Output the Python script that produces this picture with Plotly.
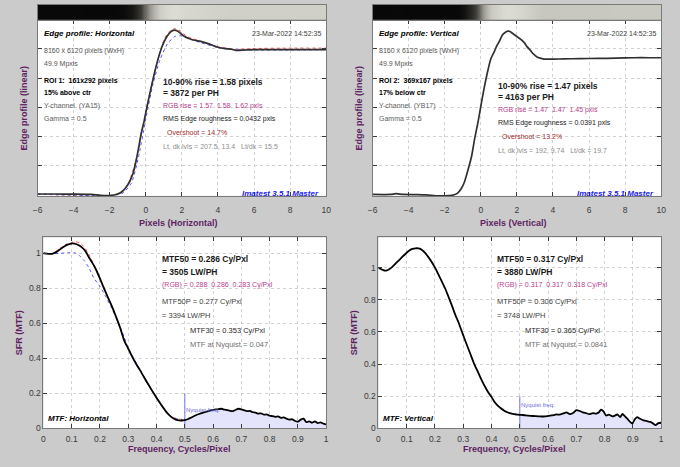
import plotly.graph_objects as go

# ---------------- data ----------------
# Edge profile, horizontal (ROI 1)
h_px = [-6, -5, -4, -3, -2.5, -2, -1.6, -1.3, -1.1, -0.9, -0.7, -0.53, -0.4, -0.26, -0.1, 0.02, 0.2,
        0.38, 0.55, 0.75, 0.9, 1.02, 1.2, 1.38, 1.52, 1.66, 1.8, 1.93, 2.15, 2.39, 2.7, 3.1, 3.5, 4.0,
        4.4, 4.75, 5.0, 5.5, 6, 7, 8, 9, 10]
h_y = [0.006, 0.006, 0.005, 0.003, -0.003, -0.004, 0.004, 0.023, 0.05, 0.09, 0.15, 0.237, 0.32, 0.418,
       0.5, 0.575, 0.68, 0.78, 0.87, 0.96, 1.015, 1.05, 1.09, 1.117, 1.127, 1.128, 1.12, 1.106, 1.085,
       1.072, 1.06, 1.05, 1.035, 1.012, 1.002, 0.998, 0.99, 0.993, 0.995, 0.995, 0.995, 0.995, 0.995]
h_r_px = [-6, -2, -1.5, -1.0, -0.5, 0, 0.5, 1.0, 1.3, 1.6, 1.9, 2.3, 3, 4, 5, 6, 8, 10]
h_r_y = [0.005, -0.004, 0.01, 0.07, 0.26, 0.57, 0.85, 1.06, 1.12, 1.14, 1.125, 1.085, 1.055, 1.015,
         0.998, 1.003, 1.006, 1.006]
h_b_px = [-6, -2, -1.3, -0.8, -0.4, 0, 0.4, 0.8, 1.2, 1.6, 1.95, 2.4, 3, 4, 5, 6, 8, 10]
h_b_y = [0.005, -0.004, 0.01, 0.08, 0.26, 0.52, 0.76, 0.93, 1.035, 1.085, 1.09, 1.07, 1.045, 1.01,
         0.995, 0.993, 0.993, 0.995]

# Edge profile, vertical (ROI 2)
v_px = [-6, -5, -4.7, -4.3, -3.5, -3, -2.5, -2, -1.6, -1.3, -1.07, -0.9, -0.71, -0.5, -0.34, -0.15,
        0.02, 0.2, 0.38, 0.55, 0.75, 0.9, 1.02, 1.2, 1.35, 1.5, 1.62, 1.75, 2.0, 2.2, 2.4, 2.56, 2.75,
        2.93, 3.1, 3.29, 3.5, 3.84, 4.57, 5.5, 6.5, 7.5, 8.5, 9.3, 10]
v_y = [0.003, 0.003, 0.008, 0.003, 0.002, 0.0, -0.006, -0.007, -0.003, 0.01, 0.045, 0.09, 0.17, 0.27,
       0.384, 0.5, 0.62, 0.74, 0.846, 0.93, 0.982, 1.025, 1.05, 1.095, 1.113, 1.122, 1.12, 1.108,
       1.085, 1.068, 1.045, 1.016, 0.99, 0.964, 0.947, 0.937, 0.931, 0.93, 0.932, 0.934, 0.935, 0.937,
       0.94, 0.94, 0.94]

# MTF, horizontal
mh_f = [0, 0.01, 0.02, 0.03, 0.04, 0.05, 0.062, 0.075, 0.085, 0.095, 0.102, 0.11, 0.125, 0.135, 0.143,
        0.152, 0.16, 0.172, 0.184, 0.2, 0.212, 0.224, 0.236, 0.247, 0.259, 0.271, 0.286, 0.3, 0.315,
        0.33, 0.342, 0.353, 0.365, 0.378, 0.39, 0.4, 0.41, 0.42, 0.433, 0.445, 0.456, 0.468, 0.48, 0.49,
        0.5, 0.51, 0.52, 0.535, 0.55, 0.565, 0.58, 0.595, 0.61, 0.62, 0.63, 0.64, 0.65, 0.66, 0.67,
        0.68, 0.69, 0.7, 0.71, 0.72, 0.73, 0.74, 0.75, 0.76, 0.77, 0.78, 0.79, 0.8, 0.81, 0.82, 0.83,
        0.84, 0.85, 0.86, 0.87, 0.88, 0.89, 0.9, 0.91, 0.92, 0.93, 0.94, 0.95, 0.96, 0.97, 0.98, 0.99, 1.0]
mh_y = [1.0, 0.998, 0.996, 0.997, 1.002, 1.012, 1.026, 1.04, 1.049, 1.054, 1.056, 1.055, 1.046, 1.035,
        1.023, 1.003, 0.979, 0.948, 0.913, 0.855, 0.808, 0.763, 0.72, 0.678, 0.628, 0.576, 0.5, 0.455,
        0.405, 0.362, 0.331, 0.3, 0.266, 0.232, 0.2, 0.175, 0.15, 0.126, 0.097, 0.075, 0.06, 0.05,
        0.045, 0.045, 0.047, 0.052, 0.06, 0.072, 0.082, 0.09, 0.097, 0.104, 0.108, 0.11, 0.112, 0.107,
        0.104, 0.1, 0.098, 0.106, 0.112, 0.109, 0.103, 0.098, 0.1, 0.092, 0.09, 0.084, 0.086, 0.078,
        0.08, 0.072, 0.07, 0.066, 0.068, 0.06, 0.063, 0.055, 0.05, 0.052, 0.042, 0.038, 0.05, 0.055,
        0.035, 0.04, 0.032, 0.04, 0.03, 0.034, 0.027, 0.022]
mh_r_f = [0, 0.03, 0.06, 0.08, 0.1, 0.115, 0.13, 0.145, 0.16, 0.18, 0.2, 0.25, 0.3, 0.35, 0.4, 0.45, 0.5]
mh_r_y = [1.0, 0.998, 1.03, 1.05, 1.063, 1.066, 1.058, 1.035, 0.995, 0.93, 0.86, 0.665, 0.45, 0.31,
          0.177, 0.068, 0.048]
mh_b_f = [0, 0.03, 0.06, 0.09, 0.11, 0.125, 0.143, 0.16, 0.178, 0.2, 0.218, 0.24, 0.26, 0.28, 0.3,
          0.35, 0.4, 0.45, 0.5]
mh_b_y = [1.0, 0.998, 1.0, 1.003, 1.003, 0.99, 0.96, 0.92, 0.86, 0.81, 0.76, 0.69, 0.62, 0.545, 0.46,
          0.31, 0.172, 0.066, 0.046]

# MTF, vertical
mv_f = [0, 0.01, 0.021, 0.03, 0.038, 0.05, 0.062, 0.075, 0.085, 0.097, 0.108, 0.12, 0.131, 0.142,
        0.154, 0.166, 0.178, 0.19, 0.201, 0.212, 0.224, 0.236, 0.247, 0.259, 0.271, 0.283, 0.294,
        0.306, 0.317, 0.33, 0.34, 0.352, 0.365, 0.376, 0.387, 0.4, 0.41, 0.42, 0.433, 0.445, 0.456,
        0.468, 0.48, 0.49, 0.5, 0.51, 0.52, 0.538, 0.555, 0.573, 0.59, 0.607, 0.62, 0.63, 0.64, 0.654,
        0.665, 0.677, 0.688, 0.7, 0.712, 0.723, 0.735, 0.746, 0.758, 0.77, 0.78, 0.787, 0.796, 0.805,
        0.815, 0.828, 0.837, 0.845, 0.855, 0.863, 0.872, 0.88, 0.89, 0.898, 0.906, 0.915, 0.925, 0.938,
        0.95, 0.962, 0.97, 0.98, 0.99, 1.0]
mv_y = [1.0, 0.99, 0.982, 0.983, 0.99, 1.006, 1.028, 1.05, 1.068, 1.088, 1.105, 1.116, 1.12, 1.119,
        1.11, 1.09, 1.062, 1.03, 0.997, 0.958, 0.915, 0.87, 0.822, 0.768, 0.71, 0.66, 0.607, 0.55, 0.5,
        0.44, 0.395, 0.35, 0.3, 0.262, 0.228, 0.195, 0.166, 0.145, 0.125, 0.11, 0.1, 0.093, 0.088,
        0.086, 0.084, 0.083, 0.081, 0.078, 0.076, 0.074, 0.075, 0.079, 0.083, 0.087, 0.085, 0.093, 0.1,
        0.088, 0.095, 0.113, 0.108, 0.1, 0.094, 0.088, 0.095, 0.091, 0.1, 0.117, 0.105, 0.08, 0.085,
        0.074, 0.08, 0.087, 0.07, 0.09, 0.075, 0.06, 0.04, 0.03, 0.055, 0.07, 0.06, 0.05, 0.045, 0.04,
        0.032, 0.02, 0.033, 0.035]

nyquist = 0.5
nyq_marker_top = 0.2

# ---------------- figure ----------------
W, H = 680, 467
FONT = "Liberation Sans, Arial, sans-serif"
PURPLE = "#5e1f63"
GRID = "#d2d2d2"
FRAME = "#7a7a7a"
TICKC = "#3a3a3a"

def px_x(p):
    return p / W

def px_y(p):
    return 1 - p / H

fig = go.Figure()

# gradient bars from edge profiles
bar_scale = [[0, "#080808"], [0.35, "#3c3a36"], [0.6, "#9a9890"], [0.85, "#cdcdc5"], [1, "#dcdcd4"]]
fig.add_trace(go.Heatmap(x=h_px, z=[h_y], colorscale=bar_scale, zmin=0, zmax=1.13, showscale=False,
                         zsmooth="best", xaxis="x5", yaxis="y5", hoverinfo="skip"))
fig.add_trace(go.Heatmap(x=v_px, z=[v_y], colorscale=bar_scale, zmin=0, zmax=1.13, showscale=False,
                         zsmooth="best", xaxis="x6", yaxis="y6", hoverinfo="skip"))

# edge profiles
fig.add_trace(go.Scatter(x=h_r_px, y=h_r_y, mode="lines", line=dict(color="#ff5050", width=1, dash="dot", shape="spline", smoothing=0.6), xaxis="x", yaxis="y"))
fig.add_trace(go.Scatter(x=h_b_px, y=h_b_y, mode="lines", line=dict(color="#5050ff", width=1, dash="dot", shape="spline", smoothing=0.6), xaxis="x", yaxis="y"))
fig.add_trace(go.Scatter(x=h_px, y=h_y, mode="lines", line=dict(color="#303030", width=1.7, shape="spline", smoothing=0.6), xaxis="x", yaxis="y"))
fig.add_trace(go.Scatter(x=v_px, y=v_y, mode="lines", line=dict(color="#303030", width=1.7, shape="spline", smoothing=0.6), xaxis="x2", yaxis="y2"))

# MTF fills beyond Nyquist
for f, m, xa, ya in [(mh_f, mh_y, "x3", "y3"), (mv_f, mv_y, "x4", "y4")]:
    ff = [a for a in f if a >= nyquist]
    mm = [b for a, b in zip(f, m) if a >= nyquist]
    fig.add_trace(go.Scatter(x=ff, y=mm, mode="lines", fill="tozeroy", fillcolor="#e4e4fc",
                             line=dict(width=0, color="#e4e4fc"), xaxis=xa, yaxis=ya))
    fig.add_trace(go.Scatter(x=[nyquist, nyquist], y=[0, nyq_marker_top], mode="lines",
                             line=dict(color="#7878e0", width=1), xaxis=xa, yaxis=ya))

fig.add_trace(go.Scatter(x=mh_r_f, y=mh_r_y, mode="lines", line=dict(color="#ff5050", width=1, dash="dot", shape="spline", smoothing=0.6), xaxis="x3", yaxis="y3"))
fig.add_trace(go.Scatter(x=mh_b_f, y=mh_b_y, mode="lines", line=dict(color="#5050ff", width=1, dash="dot", shape="spline", smoothing=0.6), xaxis="x3", yaxis="y3"))
fig.add_trace(go.Scatter(x=mh_f, y=mh_y, mode="lines", line=dict(color="#000000", width=1.8, shape="spline", smoothing=0.5), xaxis="x3", yaxis="y3"))
fig.add_trace(go.Scatter(x=mv_f, y=mv_y, mode="lines", line=dict(color="#000000", width=1.8, shape="spline", smoothing=0.5), xaxis="x4", yaxis="y4"))

# ---------------- axes ----------------
top_dom = [px_y(198), px_y(20)]
bar_dom = [px_y(20), px_y(5)]
bot_dom = [px_y(433), px_y(240)]
left_top_x = [px_x(33), px_x(326)]
right_top_x = [px_x(373), px_x(666)]
left_bot_x = [px_x(39), px_x(326)]
right_bot_x = [px_x(379), px_x(666)]

tickfont = dict(family=FONT, size=8.5, color=TICKC)

def xax(domain, anchor, rng, dtick, **kw):
    d = dict(domain=domain, anchor=anchor, range=rng, dtick=dtick, tick0=0, ticks="inside", ticklen=4,
             tickcolor=TICKC, showline=True, linecolor=FRAME, linewidth=1, mirror="ticks",
             showgrid=True, gridcolor=GRID, griddash="dot", gridwidth=1, zeroline=False,
             tickfont=tickfont)
    d.update(kw)
    return d

def yax(domain, anchor, rng, dtick, **kw):
    d = dict(domain=domain, anchor=anchor, range=rng, dtick=dtick, tick0=0, ticks="inside", ticklen=4,
             tickcolor=TICKC, showline=True, linecolor=FRAME, linewidth=1, mirror="ticks",
             showgrid=True, gridcolor=GRID, griddash="dot", gridwidth=1, zeroline=False,
             tickfont=tickfont)
    d.update(kw)
    return d

bar_ax = dict(showticklabels=False, ticks="", showgrid=False, zeroline=False, showline=True,
              linecolor=FRAME, mirror=True)

fig.update_layout(
    xaxis=xax(left_top_x, "y", [-6, 10], 2, ticklabelstandoff=6),
    yaxis=yax(top_dom, "x", [-0.0068, 1.2], 0.2, showticklabels=False),
    xaxis2=xax(right_top_x, "y2", [-6, 10], 2, ticklabelstandoff=6),
    yaxis2=yax(top_dom, "x2", [-0.0068, 1.2], 0.2, showticklabels=False),
    xaxis3=xax(left_bot_x, "y3", [0, 1], 0.1, tickformat="~g", ticklabelstandoff=2),
    yaxis3=yax(bot_dom, "x3", [0, 1.0904], 0.2, tickformat="~g"),
    xaxis4=xax(right_bot_x, "y4", [0, 1], 0.1, tickformat="~g", ticklabelstandoff=2),
    yaxis4=yax(bot_dom, "x4", [0, 1.1877], 0.2, tickformat="~g"),
    xaxis5=dict(domain=left_top_x, anchor="y5", range=[-6, 10], **bar_ax),
    yaxis5=dict(domain=bar_dom, anchor="x5", range=[-0.5, 0.5], **bar_ax),
    xaxis6=dict(domain=right_top_x, anchor="y6", range=[-6, 10], **bar_ax),
    yaxis6=dict(domain=bar_dom, anchor="x6", range=[-0.5, 0.5], **bar_ax),
)

# ---------------- text ----------------
annots = []

def ann(text, x, y, size=7, color="#000000", bold=False, italic=False, xanchor="left", angle=0):
    t = text.replace("  ", " \u00a0")
    if bold:
        t = "<b>" + t + "</b>"
    if italic:
        t = "<i>" + t + "</i>"
    if angle == 0:
        y = y + 2.5
        if xanchor == "left":
            x = x - 2.5
        elif xanchor == "right":
            x = x + 2.5
    annots.append(dict(text=t, x=px_x(x), y=px_y(y), xref="paper", yref="paper", showarrow=False,
                       xanchor=xanchor, yanchor="middle", textangle=angle,
                       font=dict(family=FONT, size=size, color=color)))

MAG = "#b8408f"
DRED = "#a02a2a"
LGREY = "#8e8e8e"
MGREY = "#555555"
BLUE = "#1c1ce8"

panels = [
    dict(off=0, title="Edge profile: Horizontal", roi="ROI 1:  161x292 pixels", pos="15% above ctr",
         chan="Y-channel  (YA15)", rise="10-90% rise = 1.58 pixels", ph="= 3872 per PH",
         rgb="RGB rise = 1.57  1.58  1.62 pxls", rms="RMS Edge roughness = 0.0432 pxls",
         over="Overshoot = 14.7%", lvls="Lt, dk lvls = 207.5, 13.4   Lt/dk = 15.5", ry=80,
         xt="Pixels (Horizontal)",
         m50="MTF50 = 0.286 Cy/Pxl", m50lw="= 3505 LW/PH", mrgb="(RGB) = 0.288  0.286  0.283 Cy/Pxl",
         m50p="MTF50P = 0.277 Cy/Pxl", m50plw="= 3394 LW/PH", m30="MTF30 = 0.353 Cy/Pxl",
         mnyq="MTF at Nyquist = 0.047", mt="MTF: Horizontal", nyqy=412),
    dict(off=340, title="Edge profile: Vertical", roi="ROI 2:  369x167 pixels", pos="17% below ctr",
         chan="Y-channel  (YB17)", rise="10-90% rise = 1.47 pixels", ph="= 4163 per PH",
         rgb="RGB rise = 1.47  1.47  1.45 pxls", rms="RMS Edge roughness = 0.0391 pxls",
         over="Overshoot = 13.2%", lvls="Lt, dk lvls = 192, 9.74   Lt/dk = 19.7", ry=84,
         xt="Pixels (Vertical)",
         m50="MTF50 = 0.317 Cy/Pxl", m50lw="= 3880 LW/PH", mrgb="(RGB) = 0.317  0.317  0.318 Cy/Pxl",
         m50p="MTF50P = 0.306 Cy/Pxl", m50plw="= 3748 LW/PH", m30="MTF30 = 0.365 Cy/Pxl",
         mnyq="MTF at Nyquist = 0.0841", mt="MTF: Vertical", nyqy=407),
]

for p in panels:
    o = p["off"]
    ann(p["title"], o + 40, 31, size=8, bold=True, italic=True)
    ann("23-Mar-2022 14:52:35", o + 320, 31, size=7, color="#404040", xanchor="right")
    ann("8160 x 6120 pixels (WxH)", o + 40, 49, color=MGREY)
    ann("49.9 Mpxls", o + 40, 62, color=MGREY)
    ann(p["roi"], o + 40, 79, bold=True)
    ann(p["pos"], o + 40, 91, bold=True)
    ann(p["chan"], o + 40, 105, color="#606060")
    ann("Gamma = 0.5", o + 40, 117, color="#606060")
    ry = p["ry"]
    ann(p["rise"], o + 161, ry, size=8.5, bold=True, color="#1a1a1a")
    ann(p["ph"], o + 161, ry + 11.5, size=8.5, bold=True, color="#1a1a1a")
    ann(p["rgb"], o + 161, ry + 25, color=MAG)
    ann(p["rms"], o + 161, ry + 38, color="#1a1a1a")
    ann(p["over"], o + 165, ry + 51, color=DRED)
    ann(p["lvls"], o + 161, ry + 66, color=LGREY)
    ann("Imatest 3.5.1 Master", o + 318, 193, size=8, bold=True, italic=True, color=BLUE,
        xanchor="right")
    ann("Edge profile (linear)", o + 19, 109, size=9, bold=True, color=PURPLE, xanchor="center", angle=-90)
    ann(p["xt"], o + 176, 223, size=9, bold=True, color=PURPLE, xanchor="center")
    # MTF panel
    ann(p["m50"], o + 160, 259, size=8.5, bold=True, color="#1a1a1a")
    ann(p["m50lw"], o + 160, 272, size=8.5, bold=True, color="#1a1a1a")
    ann(p["mrgb"], o + 160, 286, color=MAG)
    ann(p["m50p"], o + 160, 302, size=7.5, color="#404040")
    ann(p["m50plw"], o + 160, 316, size=7.5, color="#404040")
    ann(p["m30"], o + 188, 332, size=7.5, color="#2a2a2a")
    ann(p["mnyq"], o + 188, 346, size=7.5, color="#707070")
    ann(p["mt"], o + 44, 421, size=8, bold=True, italic=True)
    ann("Nyquist freq.", o + 184, p["nyqy"], size=6, color="#6a6ad8")
    ann("SFR (MTF)", o + 15, 336, size=9, bold=True, color=PURPLE, xanchor="center", angle=-90)
    ann("Frequency, Cycles/Pixel", o + 177, 451, size=9, bold=True, color=PURPLE, xanchor="center")

fig.update_layout(
    annotations=annots,
    width=W, height=H, autosize=False,
    margin=dict(l=0, r=0, t=0, b=0),
    paper_bgcolor="#cbcbcb",
    plot_bgcolor="#ffffff",
    showlegend=False,
    font=dict(family=FONT),
)

fig.write_html("out.html", config={"displayModeBar": False},
               post_script="document.body.style.margin='0px';document.body.style.padding='0px';")
